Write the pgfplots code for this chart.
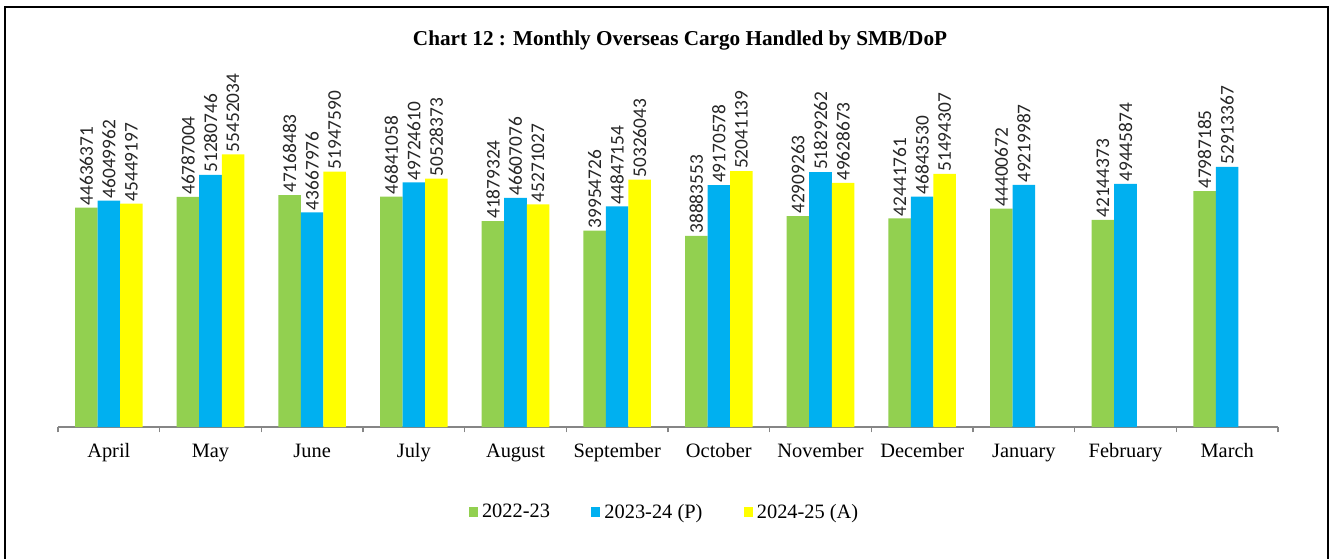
\documentclass[border=0pt]{standalone}
\usepackage{fontspec}
\setmainfont{Liberation Serif}
\newfontfamily\lblfont{Carlito}
\usepackage{pgfplots}
\pgfplotsset{compat=1.18}

\definecolor{g22}{RGB}{146,208,80}
\definecolor{b23}{RGB}{0,176,240}
\definecolor{y24}{RGB}{255,255,0}
\definecolor{axgray}{RGB}{134,134,134}

\begin{document}
\begin{tikzpicture}
% page = 1331 x 558 px, 1px = 0.75pt
\useasboundingbox (0pt,0pt) rectangle (998.25pt,418.5pt);
\draw[line width=1.6pt] (3.75pt,-4pt) -- (3.75pt,413.25pt) -- (996pt,413.25pt) -- (996pt,-4pt);

\node[font=\fontsize{15.9}{18}\selectfont\bfseries] at (510pt,388.5pt) {Chart 12 : Monthly Overseas Cargo Handled by SMB/DoP};

\begin{axis}[
    at={(43.5pt,98.25pt)}, anchor=south west,
    scale only axis,
    width=915pt, height=267.75pt,
    ybar=0pt, bar width=16.9pt,
    ymin=0, ymax=72.6e6,
    xmin=-0.5, xmax=11.5,
    axis x line*=bottom,
    axis y line=none,
    x axis line style={axgray, line width=0.8pt},
    xtick={0,...,11},
    xticklabels={April,May,June,July,August,September,October,November,December,January,February,March},
    major tick length=0pt,
    x tick label style={font=\fontsize{15.3}{17}\selectfont, text height=1.6ex, text depth=0.5ex, yshift=-12pt},
    extra x ticks={-0.5,0.5,...,11.5},
    extra x tick labels={},
    extra x tick style={major tick length=4pt, tick align=outside, tick style={axgray, line width=0.8pt}},
    point meta=explicit symbolic,
    nodes near coords,
    every node near coord/.append style={rotate=90, anchor=west, inner sep=1.5pt, font=\lblfont\fontsize{14.5}{16}\selectfont, text=black!85},
    clip=false,
    legend style={at={(0.4975,-0.238)}, anchor=center, draw=none, fill=none,
        legend columns=3, font=\fontsize{15.3}{17}\selectfont,
        /tikz/every odd column/.append style={column sep=1pt},
        /tikz/every even column/.append style={column sep=29pt}},
    legend image code/.code={\fill[#1] (0pt,-3.4pt) rectangle (6.8pt,3.4pt);},
]
\addplot[fill=g22, draw=none] coordinates {
    (0,44636371) [44636371]
    (1,46787004) [46787004]
    (2,47168483) [47168483]
    (3,46841058) [46841058]
    (4,41879324) [41879324]
    (5,39954726) [39954726]
    (6,38883553) [38883553]
    (7,42909263) [42909263]
    (8,42441761) [42441761]
    (9,44400672) [44400672]
    (10,42144373) [42144373]
    (11,47987185) [47987185]
};
\addlegendentry{2022-23}
\addplot[fill=b23, draw=none] coordinates {
    (0,46049962) [46049962]
    (1,51280746) [51280746]
    (2,43667976) [43667976]
    (3,49724610) [49724610]
    (4,46607076) [46607076]
    (5,44847154) [44847154]
    (6,49170578) [49170578]
    (7,51829262) [51829262]
    (8,46843530) [46843530]
    (9,49219987) [49219987]
    (10,49445874) [49445874]
    (11,52913367) [52913367]
};
\addlegendentry{2023-24 (P)}
\addplot[fill=y24, draw=none] coordinates {
    (0,45449197) [45449197]
    (1,55452034) [55452034]
    (2,51947590) [51947590]
    (3,50528373) [50528373]
    (4,45271027) [45271027]
    (5,50326043) [50326043]
    (6,52041139) [52041139]
    (7,49628673) [49628673]
    (8,51494307) [51494307]
};
\addlegendentry{2024-25 (A)}
\end{axis}
\end{tikzpicture}
\end{document}
